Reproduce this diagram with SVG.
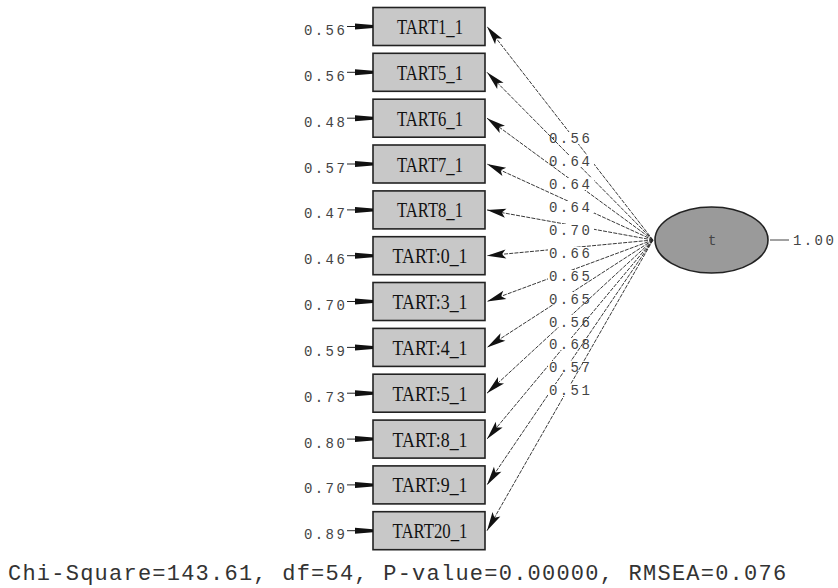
<svg xmlns="http://www.w3.org/2000/svg" xmlns:xlink="http://www.w3.org/1999/xlink" width="838" height="588" viewBox="0 0 838 588">
<style>
.box{fill:#c8c8c8;stroke:#222;stroke-width:1.6}
.lbl{font-family:"Liberation Serif",serif;font-size:20px;fill:#111;text-anchor:middle}
.num{font-family:"Liberation Mono",monospace;font-size:14px;letter-spacing:2.4px;fill:#444}
.path{stroke:#222;stroke-width:0.9;fill:none;stroke-dasharray:4 1.2;marker-end:url(#ah)}
.bg{fill:#fff}
.err line{stroke:#222;stroke-width:1}
.err polygon{fill:#111}
.fit{font-family:"Liberation Mono",monospace;font-size:22px;letter-spacing:1.23px;fill:#333}
</style>
<defs>
<marker id="ah" markerUnits="userSpaceOnUse" markerWidth="24" markerHeight="12" viewBox="-22 -6 24 12" refX="0" refY="0" orient="auto">
<path d="M0,0 L-19,-4.5 L-15,0 L-19,4.5 Z" fill="#111"/>
</marker>
<g id="err" class="err"><line x1="-26" y1="0" x2="-16" y2="0"/><polygon points="-18,-3 0,-1.5 0,1.5 -18,3"/></g>
</defs>

<g id="connectors">
<g><line class="path" x1="653" y1="240" x2="487" y2="26.5"/><rect class="bg" x="548" y="132" width="46" height="12"/><text class="num" x="549" y="143.3">0.56</text></g>
<g><line class="path" x1="653" y1="240" x2="487" y2="72.3"/><rect class="bg" x="548" y="155" width="46" height="12"/><text class="num" x="549" y="166.2">0.64</text></g>
<g><line class="path" x1="653" y1="240" x2="487" y2="118.2"/><rect class="bg" x="548" y="178" width="46" height="12"/><text class="num" x="549" y="189.1">0.64</text></g>
<g><line class="path" x1="653" y1="240" x2="487" y2="164"/><rect class="bg" x="548" y="201" width="46" height="12"/><text class="num" x="549" y="212">0.64</text></g>
<g><line class="path" x1="653" y1="240" x2="487" y2="209.9"/><rect class="bg" x="548" y="224" width="46" height="12"/><text class="num" x="549" y="234.9">0.70</text></g>
<g><line class="path" x1="653" y1="240" x2="487" y2="255.7"/><rect class="bg" x="548" y="247" width="46" height="12"/><text class="num" x="549" y="257.8">0.66</text></g>
<g><line class="path" x1="653" y1="240" x2="487" y2="301.5"/><rect class="bg" x="548" y="270" width="46" height="12"/><text class="num" x="549" y="280.7">0.65</text></g>
<g><line class="path" x1="653" y1="240" x2="487" y2="347.4"/><rect class="bg" x="548" y="292" width="46" height="12"/><text class="num" x="549" y="303.6">0.65</text></g>
<g><line class="path" x1="653" y1="240" x2="487" y2="393.2"/><rect class="bg" x="548" y="315" width="46" height="12"/><text class="num" x="549" y="326.5">0.56</text></g>
<g><line class="path" x1="653" y1="240" x2="487" y2="439.1"/><rect class="bg" x="548" y="338" width="46" height="12"/><text class="num" x="549" y="349.4">0.68</text></g>
<g><line class="path" x1="653" y1="240" x2="487" y2="484.9"/><rect class="bg" x="548" y="361" width="46" height="12"/><text class="num" x="549" y="372.3">0.57</text></g>
<g><line class="path" x1="653" y1="240" x2="487" y2="530.7"/><rect class="bg" x="548" y="384" width="46" height="12"/><text class="num" x="549" y="395.2">0.51</text></g>
<line x1="770" y1="240" x2="789" y2="240" stroke="#444" stroke-width="1"/>
</g>

<g id="n1"><rect class="box" x="373" y="7.5" width="112" height="38"/><text class="lbl" x="430" y="34" textLength="66" lengthAdjust="spacingAndGlyphs">TART1_1</text><use xlink:href="#err" x="373" y="26.5"/><text class="num" x="304" y="35">0.56</text></g>
<g id="n2"><rect class="box" x="373" y="53.3" width="112" height="38"/><text class="lbl" x="430" y="79.8" textLength="66" lengthAdjust="spacingAndGlyphs">TART5_1</text><use xlink:href="#err" x="373" y="72.3"/><text class="num" x="304" y="80.8">0.56</text></g>
<g id="n3"><rect class="box" x="373" y="99.2" width="112" height="38"/><text class="lbl" x="430" y="125.7" textLength="66" lengthAdjust="spacingAndGlyphs">TART6_1</text><use xlink:href="#err" x="373" y="118.2"/><text class="num" x="304" y="126.7">0.48</text></g>
<g id="n4"><rect class="box" x="373" y="145" width="112" height="38"/><text class="lbl" x="430" y="171.5" textLength="66" lengthAdjust="spacingAndGlyphs">TART7_1</text><use xlink:href="#err" x="373" y="164"/><text class="num" x="304" y="172.5">0.57</text></g>
<g id="n5"><rect class="box" x="373" y="190.9" width="112" height="38"/><text class="lbl" x="430" y="217.4" textLength="66" lengthAdjust="spacingAndGlyphs">TART8_1</text><use xlink:href="#err" x="373" y="209.9"/><text class="num" x="304" y="218.4">0.47</text></g>
<g id="n6"><rect class="box" x="373" y="236.7" width="112" height="38"/><text class="lbl" x="430" y="263.2" textLength="75" lengthAdjust="spacingAndGlyphs">TART:0_1</text><use xlink:href="#err" x="373" y="255.7"/><text class="num" x="304" y="264.2">0.46</text></g>
<g id="n7"><rect class="box" x="373" y="282.5" width="112" height="38"/><text class="lbl" x="430" y="309" textLength="75" lengthAdjust="spacingAndGlyphs">TART:3_1</text><use xlink:href="#err" x="373" y="301.5"/><text class="num" x="304" y="310">0.70</text></g>
<g id="n8"><rect class="box" x="373" y="328.4" width="112" height="38"/><text class="lbl" x="430" y="354.9" textLength="75" lengthAdjust="spacingAndGlyphs">TART:4_1</text><use xlink:href="#err" x="373" y="347.4"/><text class="num" x="304" y="355.9">0.59</text></g>
<g id="n9"><rect class="box" x="373" y="374.2" width="112" height="38"/><text class="lbl" x="430" y="400.7" textLength="75" lengthAdjust="spacingAndGlyphs">TART:5_1</text><use xlink:href="#err" x="373" y="393.2"/><text class="num" x="304" y="401.7">0.73</text></g>
<g id="n10"><rect class="box" x="373" y="420.1" width="112" height="38"/><text class="lbl" x="430" y="446.6" textLength="75" lengthAdjust="spacingAndGlyphs">TART:8_1</text><use xlink:href="#err" x="373" y="439.1"/><text class="num" x="304" y="447.6">0.80</text></g>
<g id="n11"><rect class="box" x="373" y="465.9" width="112" height="38"/><text class="lbl" x="430" y="492.4" textLength="75" lengthAdjust="spacingAndGlyphs">TART:9_1</text><use xlink:href="#err" x="373" y="484.9"/><text class="num" x="304" y="493.4">0.70</text></g>
<g id="n12"><rect class="box" x="373" y="511.7" width="112" height="38"/><text class="lbl" x="430" y="538.2" textLength="75" lengthAdjust="spacingAndGlyphs">TART20_1</text><use xlink:href="#err" x="373" y="530.7"/><text class="num" x="304" y="539.2">0.89</text></g>

<g id="t"><ellipse cx="711.5" cy="240" rx="56.5" ry="33" fill="#9a9a9a" stroke="#222" stroke-width="1.6"/><text class="num" x="708" y="245">t</text><text class="num" x="793" y="245">1.00</text></g>

<text class="fit" x="8" y="580">Chi-Square=143.61, df=54, P-value=0.00000, RMSEA=0.076</text>
</svg>
